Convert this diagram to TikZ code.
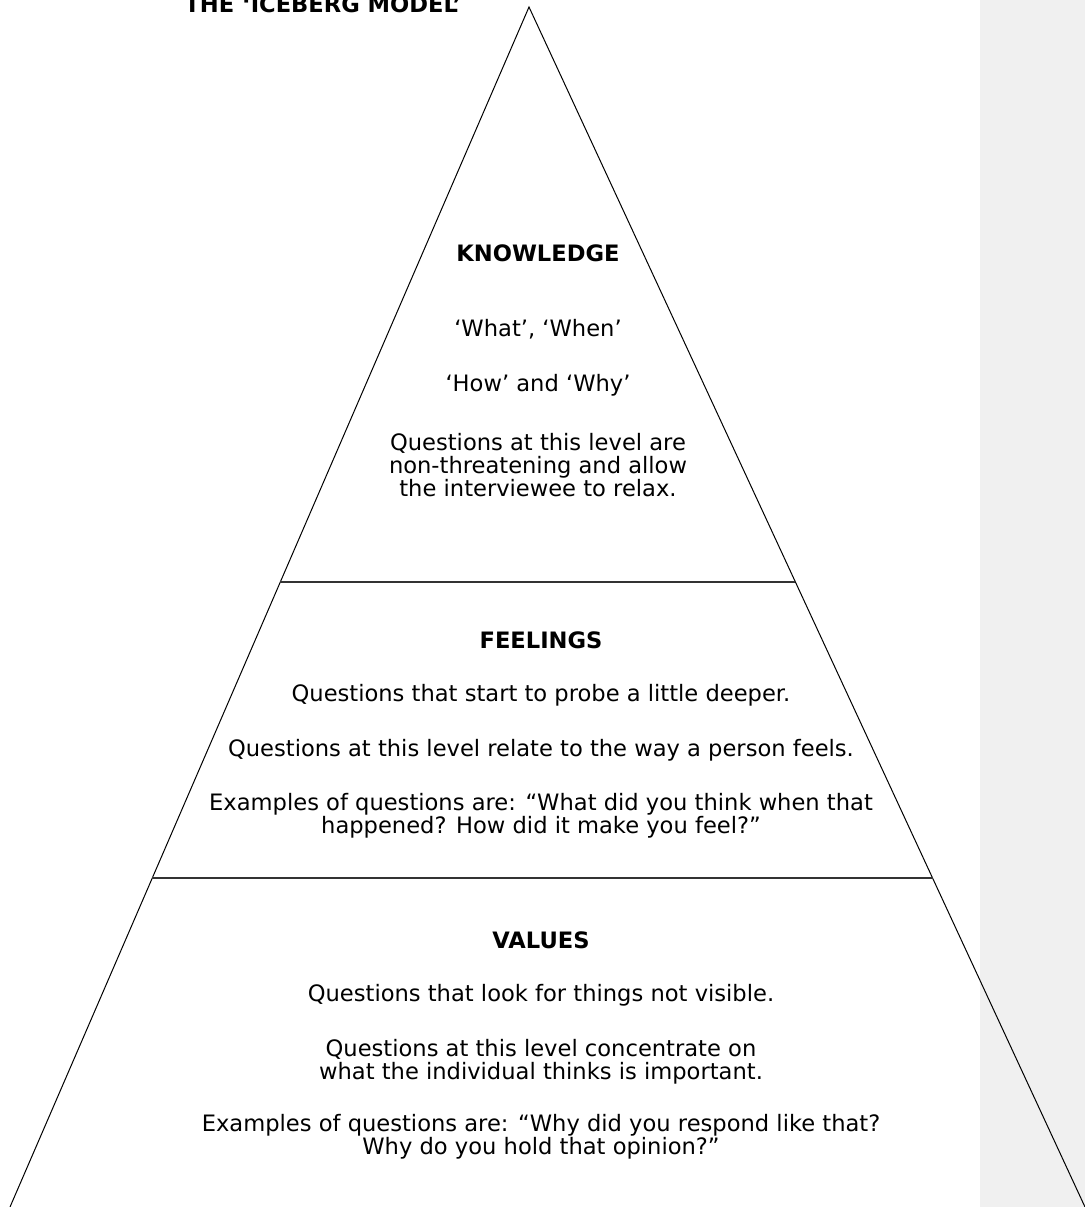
\documentclass[tikz,border=0pt]{standalone}
\usepackage{fontspec}
\setmainfont{DejaVu Sans}
\usetikzlibrary{calc}
\tikzset{
  body/.style={align=center,inner sep=0pt,font=\fontsize{11.3}{11.5}\selectfont},
  head/.style={inner sep=0pt,font=\fontsize{11.3}{12}\bfseries\selectfont},
  divider/.style={line width=0.8pt,black!80}
}
\begin{document}
\begin{tikzpicture}[x=0.5pt,y=-0.5pt]
    \useasboundingbox (0,0) rectangle (1085,1207);
    \fill[black!6] (980,0) rectangle (1085,1207);
    % the iceberg
    \coordinate (top) at (529,7);
    \coordinate (bl) at (10,1207);
    \coordinate (br) at (1085,1207);
    \draw[line width=0.5pt] (bl) -- (top) -- (br);
    \draw[divider] ($(top)!0.479!(bl)$) -- ($(top)!0.479!(br)$);
    \draw[divider] ($(top)!0.726!(bl)$) -- ($(top)!0.726!(br)$);
    % title
    \node[head,anchor=base] (title) at (323,12) {THE ‘ICEBERG MODEL’};
    % knowledge
    \node[head] (know) at (538,253) {KNOWLEDGE};
    \node[body] (know1) at (538,329) {‘What’, ‘When’};
    \node[body] (know2) at (538,385) {‘How’ and ‘Why’};
    \node[body] (know3) at (538,465) {Questions at this level are\\non-threatening and allow\\the interviewee to relax.};
    % feelings
    \node[head] (feel) at (541,640) {FEELINGS};
    \node[body] (feel1) at (541,695) {Questions that start to probe a little deeper.};
    \node[body] (feel2) at (541,750) {Questions at this level relate to the way a person feels.};
    \node[body] (feel3) at (541,816) {Examples of questions are: “What did you think when that\\happened? How did it make you feel?”};
    % values
    \node[head] (val) at (541,940) {VALUES};
    \node[body] (val1) at (541,995) {Questions that look for things not visible.};
    \node[body] (val2) at (541,1062) {Questions at this level concentrate on\\what the individual thinks is important.};
    \node[body] (val3) at (541,1137) {Examples of questions are: “Why did you respond like that?\\Why do you hold that opinion?”};
\end{tikzpicture}
\end{document}
